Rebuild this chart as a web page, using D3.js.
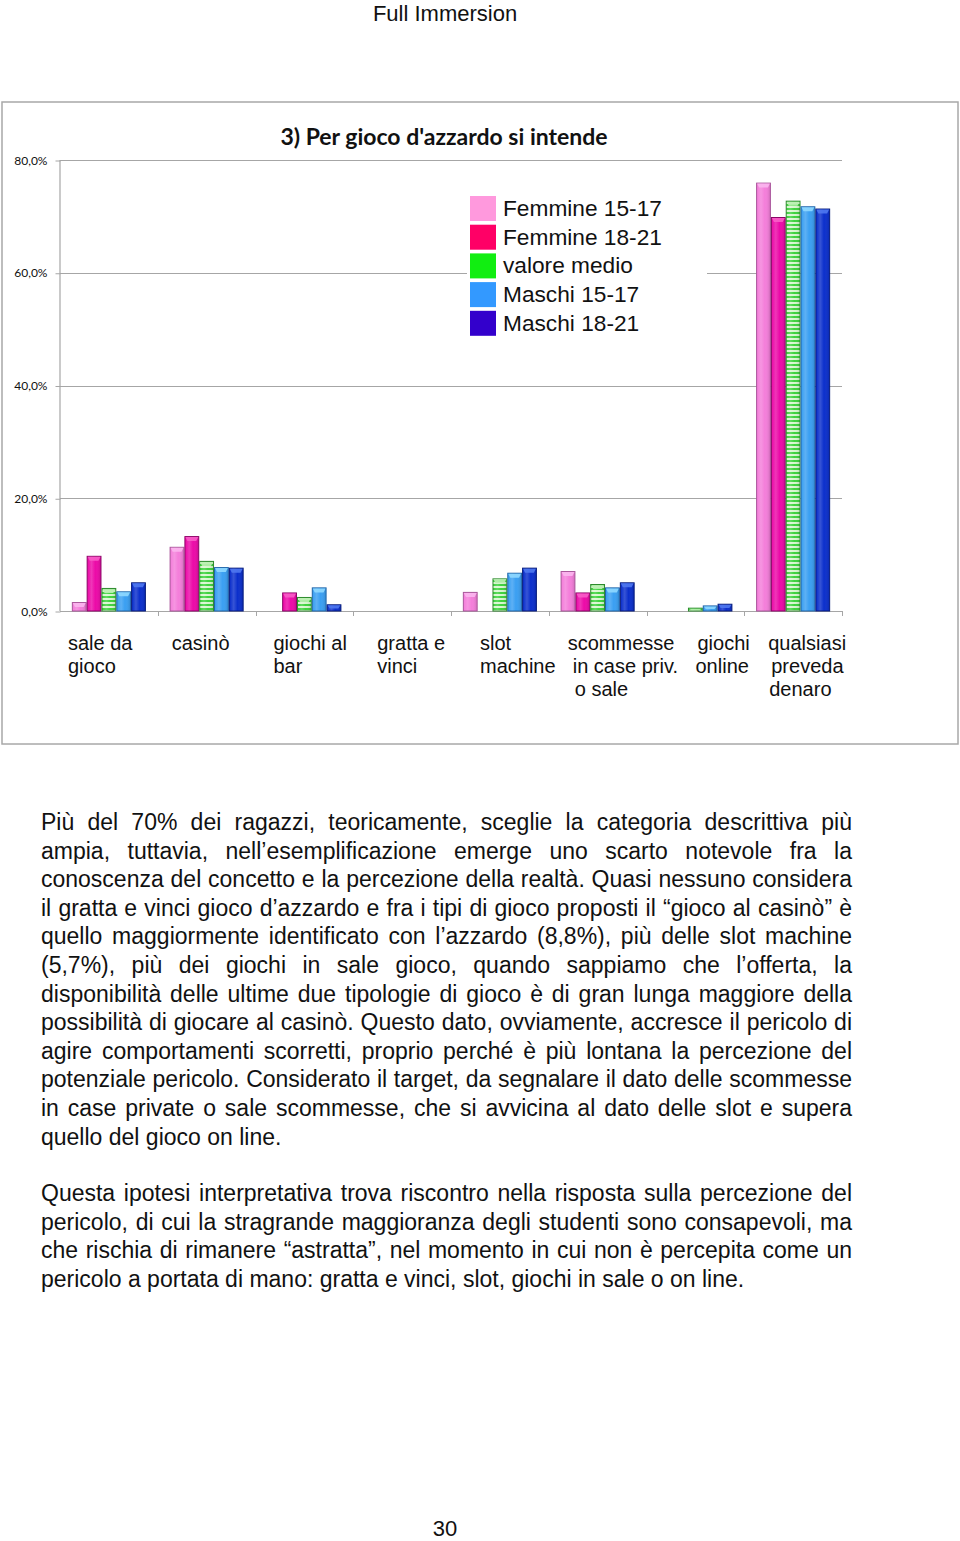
<!DOCTYPE html>
<html>
<head>
<meta charset="utf-8">
<script src="https://cdn.jsdelivr.net/npm/d3@7"></script>
<style>
  html, body { margin: 0; padding: 0; background: #fff; }
  body { width: 960px; height: 1541px; position: relative; overflow: hidden; }
  #chart { position: absolute; left: 0; top: 0; }
  .para { position: absolute; left: 41px; width: 811px; font-family: "Liberation Sans", Arial, sans-serif; font-size: 23px; line-height: 28.6px; color: #111; }
  .para .ln { white-space: nowrap; height: 28.6px; }
  .para .ln span { display: inline-block; white-space: pre; }
</style>
</head>
<body>
<svg id="chart" width="960" height="1541"></svg>
<div class="para" id="p1"></div>
<div class="para" id="p2"></div>
<script>
// ---------------- DATA ----------------
const categories = ["sale da gioco", "casinò", "giochi al bar", "gratta e vinci", "slot machine", "scommesse in case priv. o sale", "giochi online", "qualsiasi preveda denaro"];
const categoryLabelLines = [["sale da", "gioco"], ["casinò"], ["giochi al", "bar"], ["gratta e", "vinci"], ["slot", "machine"], ["scommesse", "in case priv.", "o sale"], ["giochi", "online"], ["qualsiasi", "preveda", "denaro"]];
const seriesNames = ["Femmine 15-17", "Femmine 18-21", "valore medio", "Maschi 15-17", "Maschi 18-21"];
const femmine1517 = [1.5, 11.3, 0, 0, 3.3, 7.0, 0, 75.9];
const femmine1821 = [9.7, 13.2, 3.2, 0, 0, 3.2, 0, 69.8];
const valoreMedio = [4.0, 8.8, 2.4, 0, 5.7, 4.7, 0.5, 72.7];
const maschi1517 = [3.4, 7.7, 4.1, 0, 6.7, 4.1, 0.9, 71.7];
const maschi1821 = [5.0, 7.6, 1.1, 0, 7.6, 5.0, 1.2, 71.3];
const yTicks = [0, 20, 40, 60, 80];
const chartTitle = "3) Per gioco d'azzardo si intende";
const pageHeader = "Full Immersion";
const pageNumber = "30";
const paragraph1 = [
  "Più del 70% dei ragazzi, teoricamente, sceglie la categoria descrittiva più",
  "ampia, tuttavia, nell’esemplificazione emerge uno scarto notevole fra la",
  "conoscenza del concetto e la percezione della realtà. Quasi nessuno considera",
  "il gratta e vinci gioco d’azzardo e fra i tipi di gioco proposti il “gioco al casinò” è",
  "quello maggiormente identificato con l’azzardo (8,8%), più delle slot machine",
  "(5,7%), più dei giochi in sale gioco, quando sappiamo che l’offerta, la",
  "disponibilità delle ultime due tipologie di gioco è di gran lunga maggiore della",
  "possibilità di giocare al casinò. Questo dato, ovviamente, accresce il pericolo di",
  "agire comportamenti scorretti, proprio perché è più lontana la percezione del",
  "potenziale pericolo. Considerato il target, da segnalare il dato delle scommesse",
  "in case private o sale scommesse, che si avvicina al dato delle slot e supera",
  "quello del gioco on line."
];
const paragraph2 = [
  "Questa ipotesi interpretativa trova riscontro nella risposta sulla percezione del",
  "pericolo, di cui la stragrande maggioranza degli studenti sono consapevoli, ma",
  "che rischia di rimanere “astratta”, nel momento in cui non è percepita come un",
  "pericolo a portata di mano: gratta e vinci, slot, giochi in sale o on line."
];

// ---------------- STYLE / LAYOUT ----------------
const seriesValues = [femmine1517, femmine1821, valoreMedio, maschi1517, maschi1821];
const barFill = ["#F47EDA", "#EC0AA8", "url(#stripes)", "#3A9FF2", "#0B2FCC"];
const barStroke = ["#A8569A", "#8A0566", "#2E8A2E", "#1F64A8", "#061B7A"];
const barCap = ["#FBB6EE", "#F85CC8", "#B9F0B0", "#8FD8FF", "#4F78F0"];
const legendFill = ["#FF99DD", "#FF0066", "#11EE11", "#3399FF", "#3300CC"];
const labelOffsets = [8, 14, 18, 24, 29, 19, 51, 24];
const lineOffsets = [[0, 0], [0], [0, 0], [0, 0], [0, 0], [0, 5, 7], [0, -2], [0, 3, 1]];

const svg = d3.select("#chart");
const defs = svg.append("defs");
const pat = defs.append("pattern").attr("id", "stripes").attr("patternUnits", "userSpaceOnUse")
  .attr("width", 8).attr("height", 4);
pat.append("rect").attr("width", 8).attr("height", 4).attr("fill", "#3DD23D");
pat.append("rect").attr("y", 2).attr("width", 8).attr("height", 2).attr("fill", "#D6F6CE");

const gloss = defs.append("linearGradient").attr("id", "gloss").attr("x1", 0).attr("x2", 1).attr("y1", 0).attr("y2", 0);
gloss.append("stop").attr("offset", "0%").attr("stop-color", "#fff").attr("stop-opacity", 0.0);
gloss.append("stop").attr("offset", "30%").attr("stop-color", "#fff").attr("stop-opacity", 0.18);
gloss.append("stop").attr("offset", "60%").attr("stop-color", "#fff").attr("stop-opacity", 0.0);
gloss.append("stop").attr("offset", "100%").attr("stop-color", "#000").attr("stop-opacity", 0.12);

// page header
svg.append("text").attr("x", 445).attr("y", 21).attr("text-anchor", "middle")
  .attr("font-family", "Liberation Sans, Arial, sans-serif").attr("font-size", 22).attr("fill", "#111")
  .text(pageHeader);

// chart frame
svg.append("rect").attr("x", 2).attr("y", 102).attr("width", 956).attr("height", 642)
  .attr("fill", "#fff").attr("stroke", "#A8A8A8").attr("stroke-width", 1.5);

// scales
const plotLeft = 60, plotRight = 842, plotTop = 160, plotBottom = 611;
const x = d3.scaleBand().domain(categories).range([plotLeft, plotRight]).padding(0);
const xs = d3.scaleBand().domain(seriesNames).range([0, x.bandwidth()]).paddingInner(0).paddingOuter(0.8);
const y = d3.scaleLinear().domain([0, 80]).range([plotBottom, plotTop]);
const loc = d3.formatLocale({decimal: ",", thousands: ".", grouping: [3], currency: ["", "€"]});
const fmt = v => loc.format(".1f")(v) + "%";

// gridlines
svg.append("g").selectAll("line").data(yTicks.filter(d => d > 0)).join("line")
  .attr("x1", plotLeft).attr("x2", plotRight)
  .attr("y1", d => Math.round(y(d)) + 0.5).attr("y2", d => Math.round(y(d)) + 0.5)
  .attr("stroke", "#A6A6A6").attr("stroke-width", 1);

// y axis
const yAxis = d3.axisLeft(y).tickValues(yTicks).tickSize(5).tickFormat(fmt);
const gy = svg.append("g").attr("transform", `translate(${plotLeft + 0.5},0)`).call(yAxis);
gy.select(".domain").attr("stroke", "#A6A6A6").attr("d", `M-0.5,${plotTop}V${plotBottom}`).attr("stroke-width", 1.2);
gy.selectAll(".tick line").attr("stroke", "#A6A6A6").attr("transform", "translate(0,0.5)");
gy.selectAll(".tick text").attr("x", -13).attr("dy", "0.35em")
  .attr("font-family", "Lato, 'Open Sans', sans-serif").attr("font-size", 12).attr("fill", "#111");

// x axis
svg.append("line").attr("x1", plotLeft).attr("x2", plotRight).attr("y1", plotBottom + 0.5).attr("y2", plotBottom + 0.5)
  .attr("stroke", "#A6A6A6").attr("stroke-width", 1.2);
svg.append("g").selectAll("line").data(categories).join("line")
  .attr("x1", d => Math.round(x(d) + x.bandwidth()) + 0.5).attr("x2", d => Math.round(x(d) + x.bandwidth()) + 0.5)
  .attr("y1", plotBottom).attr("y2", plotBottom + 5).attr("stroke", "#A6A6A6");

// title
svg.append("text").attr("x", 444).attr("y", 145).attr("text-anchor", "middle")
  .attr("font-family", "Lato, 'Open Sans', sans-serif").attr("font-weight", "bold").attr("font-size", 23).attr("fill", "#111")
  .text(chartTitle);

// legend
const lg = svg.append("g");
lg.append("rect").attr("x", 467).attr("y", 190).attr("width", 240).attr("height", 150).attr("fill", "#fff");
const li = lg.selectAll("g.li").data(seriesNames).join("g").attr("class", "li")
  .attr("transform", (d, i) => `translate(470,${196 + i * 28.7})`);
li.append("rect").attr("width", 26).attr("height", 25).attr("fill", (d, i) => legendFill[i]);
li.append("text").attr("x", 33).attr("y", 20).attr("font-family", "Liberation Sans, Arial, sans-serif")
  .attr("font-size", 22.7).attr("fill", "#111").text(d => d);

// bars
const bars = [];
seriesValues.forEach((vals, si) => vals.forEach((v, ci) => { if (v > 0) bars.push({s: si, c: ci, v}); }));
const bg = svg.append("g");
const bw = xs.bandwidth();
const bar = bg.selectAll("g.bar").data(bars).join("g").attr("class", "bar")
  .attr("transform", d => `translate(${x(categories[d.c]) + xs(seriesNames[d.s])},0)`);
bar.append("rect").attr("x", 0.5).attr("y", d => y(d.v)).attr("width", bw - 1).attr("height", d => y(0) - y(d.v))
  .attr("fill", d => barFill[d.s]).attr("stroke", d => barStroke[d.s]).attr("stroke-width", 1);
bar.append("rect").attr("x", 1).attr("y", d => y(d.v) + 0.5).attr("width", bw - 2).attr("height", d => Math.max(0, y(0) - y(d.v) - 1))
  .attr("fill", "url(#gloss)");
bar.append("path")
  .attr("d", d => {
    const t = y(d.v) + 0.5, h = Math.min(4, (y(0) - y(d.v)) / 2);
    return `M1,${t}L${bw - 1},${t}L${bw - 3},${t + h}L3,${t + h}Z`;
  })
  .attr("fill", d => barCap[d.s]).attr("opacity", 0.9);

// category labels
const cl = svg.append("g").attr("font-family", "Liberation Sans, Arial, sans-serif").attr("font-size", 20).attr("fill", "#111");
categories.forEach((c, ci) => {
  categoryLabelLines[ci].forEach((ln, li2) => {
    cl.append("text").attr("x", x(c) + labelOffsets[ci] + lineOffsets[ci][li2])
      .attr("y", 650 + li2 * 23).text(ln);
  });
});

// page number
svg.append("text").attr("x", 445).attr("y", 1536).attr("text-anchor", "middle")
  .attr("font-family", "Liberation Sans, Arial, sans-serif").attr("font-size", 22).attr("fill", "#111").text(pageNumber);

// paragraphs: justify each line by adjusting word spacing (can also tighten)
const paraWidth = 811;
function fillPara(id, lines, top) {
  const p = d3.select(id).style("top", top + "px");
  p.selectAll("div").data(lines).join("div").attr("class", "ln")
    .append("span").text(d => d)
    .each(function(d, i) {
      if (i === lines.length - 1) return;
      const w = this.getBoundingClientRect().width;
      const n = (d.match(/ /g) || []).length;
      if (n > 0) d3.select(this).style("word-spacing", ((paraWidth - w) / n) + "px");
    });
}
fillPara("#p1", paragraph1, 808);
fillPara("#p2", paragraph2, 1179);
</script>
</body>
</html>
